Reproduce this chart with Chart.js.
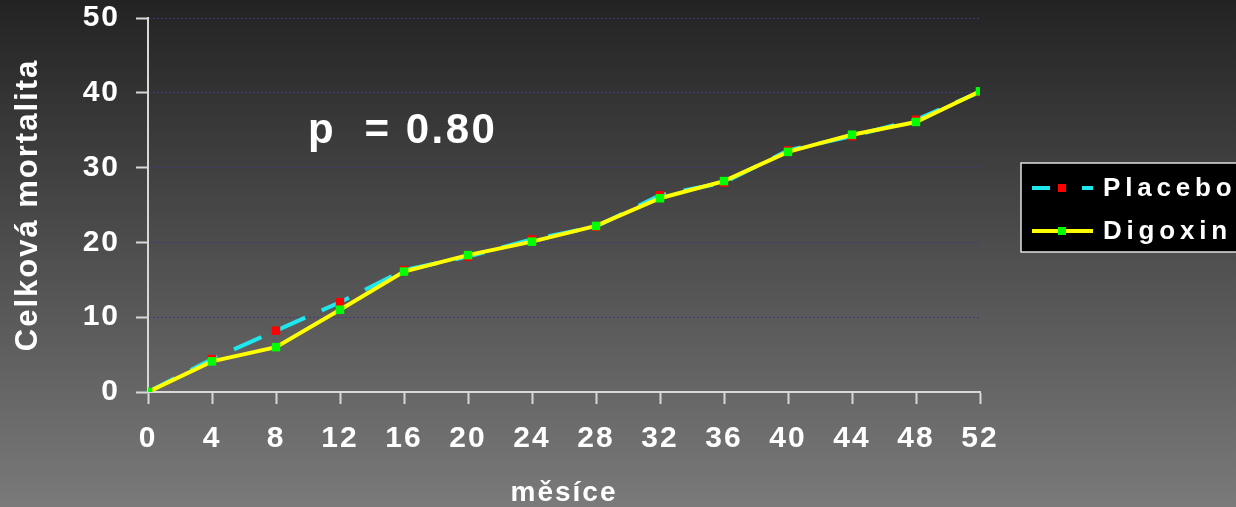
<!DOCTYPE html>
<html>
<head>
<meta charset="utf-8">
<script src="https://cdn.jsdelivr.net/npm/chart.js@4.4.1/dist/chart.umd.min.js"></script>
<style>
    html, body { margin: 0; padding: 0; background: #444; }
    #wrap { width: 1236px; height: 507px; position: relative; }
</style>
</head>
<body>
<div id="wrap"><canvas id="mortChart"></canvas></div>
<script>
// data
const months = [0, 4, 8, 12, 16, 20, 24, 28, 32, 36, 40, 44, 48, 52];
const placebo = [0, 4.4, 8.2, 12.0, 16.3, 18.1, 20.4, 22.1, 26.3, 28.0, 32.3, 34.2, 36.4, 40.1];
const digoxin = [0, 4.1, 6.0, 11.0, 16.1, 18.3, 20.1, 22.2, 25.9, 28.2, 32.1, 34.4, 36.1, 40.2];
const seriesNames = ['Placebo', 'Digoxin'];
const yTitle = 'Celková mortalita';
const xTitle = 'měsíce';
const pLabel = 'p  = 0.80';

const FONT = '"Liberation Sans", Arial, sans-serif';

function toPoints(xs, ys) {
    return xs.map((x, i) => ({ x: x, y: ys[i] }));
}

// pozadí s přechodem
const bgPlugin = {
    id: 'bg',
    beforeDraw(chart) {
        const { ctx, width, height } = chart;
        const g = ctx.createLinearGradient(0, 0, 0, height);
        g.addColorStop(0, '#232323');
        g.addColorStop(1, '#7a7a7a');
        ctx.save();
        ctx.fillStyle = g;
        ctx.fillRect(0, 0, width, height);
        ctx.restore();
        ctx.letterSpacing = '2px';
    }
};

// p-value text + legend box
const extrasPlugin = {
    id: 'extras',
    afterDraw(chart) {
        const ctx = chart.ctx;
        const xs = chart.scales.x, ys = chart.scales.y;

        ctx.save();
        ctx.letterSpacing = '2.5px';
        ctx.fillStyle = '#ffffff';
        ctx.font = 'bold 42px ' + FONT;
        ctx.textAlign = 'left';
        ctx.textBaseline = 'middle';
        ctx.fillText(pLabel, xs.getPixelForValue(10.0), ys.getPixelForValue(34.9));
        ctx.restore();

        // legenda
        const bx = 1021, by = 163, bw = 230, bh = 89;
        ctx.save();
        ctx.fillStyle = '#000000';
        ctx.fillRect(bx, by, bw, bh);
        ctx.strokeStyle = '#e0e0e0';
        ctx.lineWidth = 1.5;
        ctx.strokeRect(bx, by, bw, bh);

        const rows = [188, 231];
        chart.data.datasets.forEach((ds, i) => {
            const y = rows[i];
            ctx.save();
            ctx.strokeStyle = ds.borderColor;
            ctx.lineWidth = 4;
            ctx.setLineDash(ds.borderDash && ds.borderDash.length ? [18, 32] : []);
            ctx.beginPath();
            ctx.moveTo(1032, y);
            ctx.lineTo(1093, y);
            ctx.stroke();
            ctx.restore();
            ctx.fillStyle = ds.pointBackgroundColor;
            ctx.fillRect(1058, y - 4, 8, 8);
            ctx.fillStyle = '#ffffff';
            ctx.font = 'bold 26px ' + FONT;
            ctx.letterSpacing = '4.8px';
            ctx.textAlign = 'left';
            ctx.textBaseline = 'middle';
            ctx.fillText(ds.label, 1103, y + 1);
        });
        ctx.restore();
    }
};

const ctx = document.getElementById('mortChart');

const myChart = new Chart(ctx, {
    type: 'line',
    data: {
        datasets: [{
            label: seriesNames[0],
            data: toPoints(months, placebo),
            borderColor: '#1ee8ee',
            borderWidth: 4,
            borderDash: [30, 18],
            pointStyle: 'rect',
            pointRadius: 6,
            pointBorderWidth: 0,
            pointBackgroundColor: '#ff0000',
            tension: 0,
            order: 2
        }, {
            label: seriesNames[1],
            data: toPoints(months, digoxin),
            borderColor: '#ffff00',
            borderWidth: 4,
            pointStyle: 'rect',
            pointRadius: 6,
            pointBorderWidth: 0,
            pointBackgroundColor: '#00ff00',
            tension: 0,
            order: 1
        }]
    },
    options: {
        responsive: true,
        maintainAspectRatio: false,
        animation: false,
        layout: {
            padding: { left: 0, top: 18, right: 256, bottom: 0 }
        },
        plugins: {
            legend: { display: false },
            tooltip: { enabled: false }
        },
        scales: {
            x: {
                type: 'linear',
                min: 0,
                max: 52,
                afterFit(scale) {
                    scale.height = 115;
                    scale.paddingLeft = 0;
                    scale.paddingRight = 0;
                },
                ticks: {
                    stepSize: 4,
                    color: '#ffffff',
                    padding: 17,
                    maxRotation: 0,
                    font: { family: FONT, size: 30, weight: 'bold' }
                },
                grid: {
                    drawOnChartArea: false,
                    drawTicks: true,
                    tickLength: 12,
                    tickColor: '#d8d8d8',
                    tickWidth: 2
                },
                border: { color: '#d8d8d8', width: 2 },
                title: {
                    display: true,
                    text: xTitle,
                    color: '#ffffff',
                    padding: { top: 0, bottom: 0 },
                    font: { family: FONT, size: 28, weight: 'bold', lineHeight: 1 }
                }
            },
            y: {
                min: 0,
                max: 50,
                afterFit(scale) {
                    scale.width = 148;
                    scale.paddingTop = 0;
                    scale.paddingBottom = 0;
                },
                ticks: {
                    stepSize: 10,
                    color: '#ffffff',
                    padding: 16,
                    font: { family: FONT, size: 30, weight: 'bold' }
                },
                grid: {
                    color: (c) => (c.tick && c.tick.value === 0) ? 'rgba(0,0,0,0)' : '#3c3c78',
                    lineWidth: 1,
                    tickLength: 12,
                    tickColor: '#d8d8d8',
                    tickWidth: 2
                },
                border: { color: '#d8d8d8', width: 2, dash: [2, 2] },
                title: {
                    display: true,
                    text: yTitle,
                    color: '#ffffff',
                    padding: { top: 10, bottom: 0 },
                    font: { family: FONT, size: 31, weight: 'bold' }
                }
            }
        }
    },
    plugins: [bgPlugin, extrasPlugin]
});
</script>
</body>
</html>
